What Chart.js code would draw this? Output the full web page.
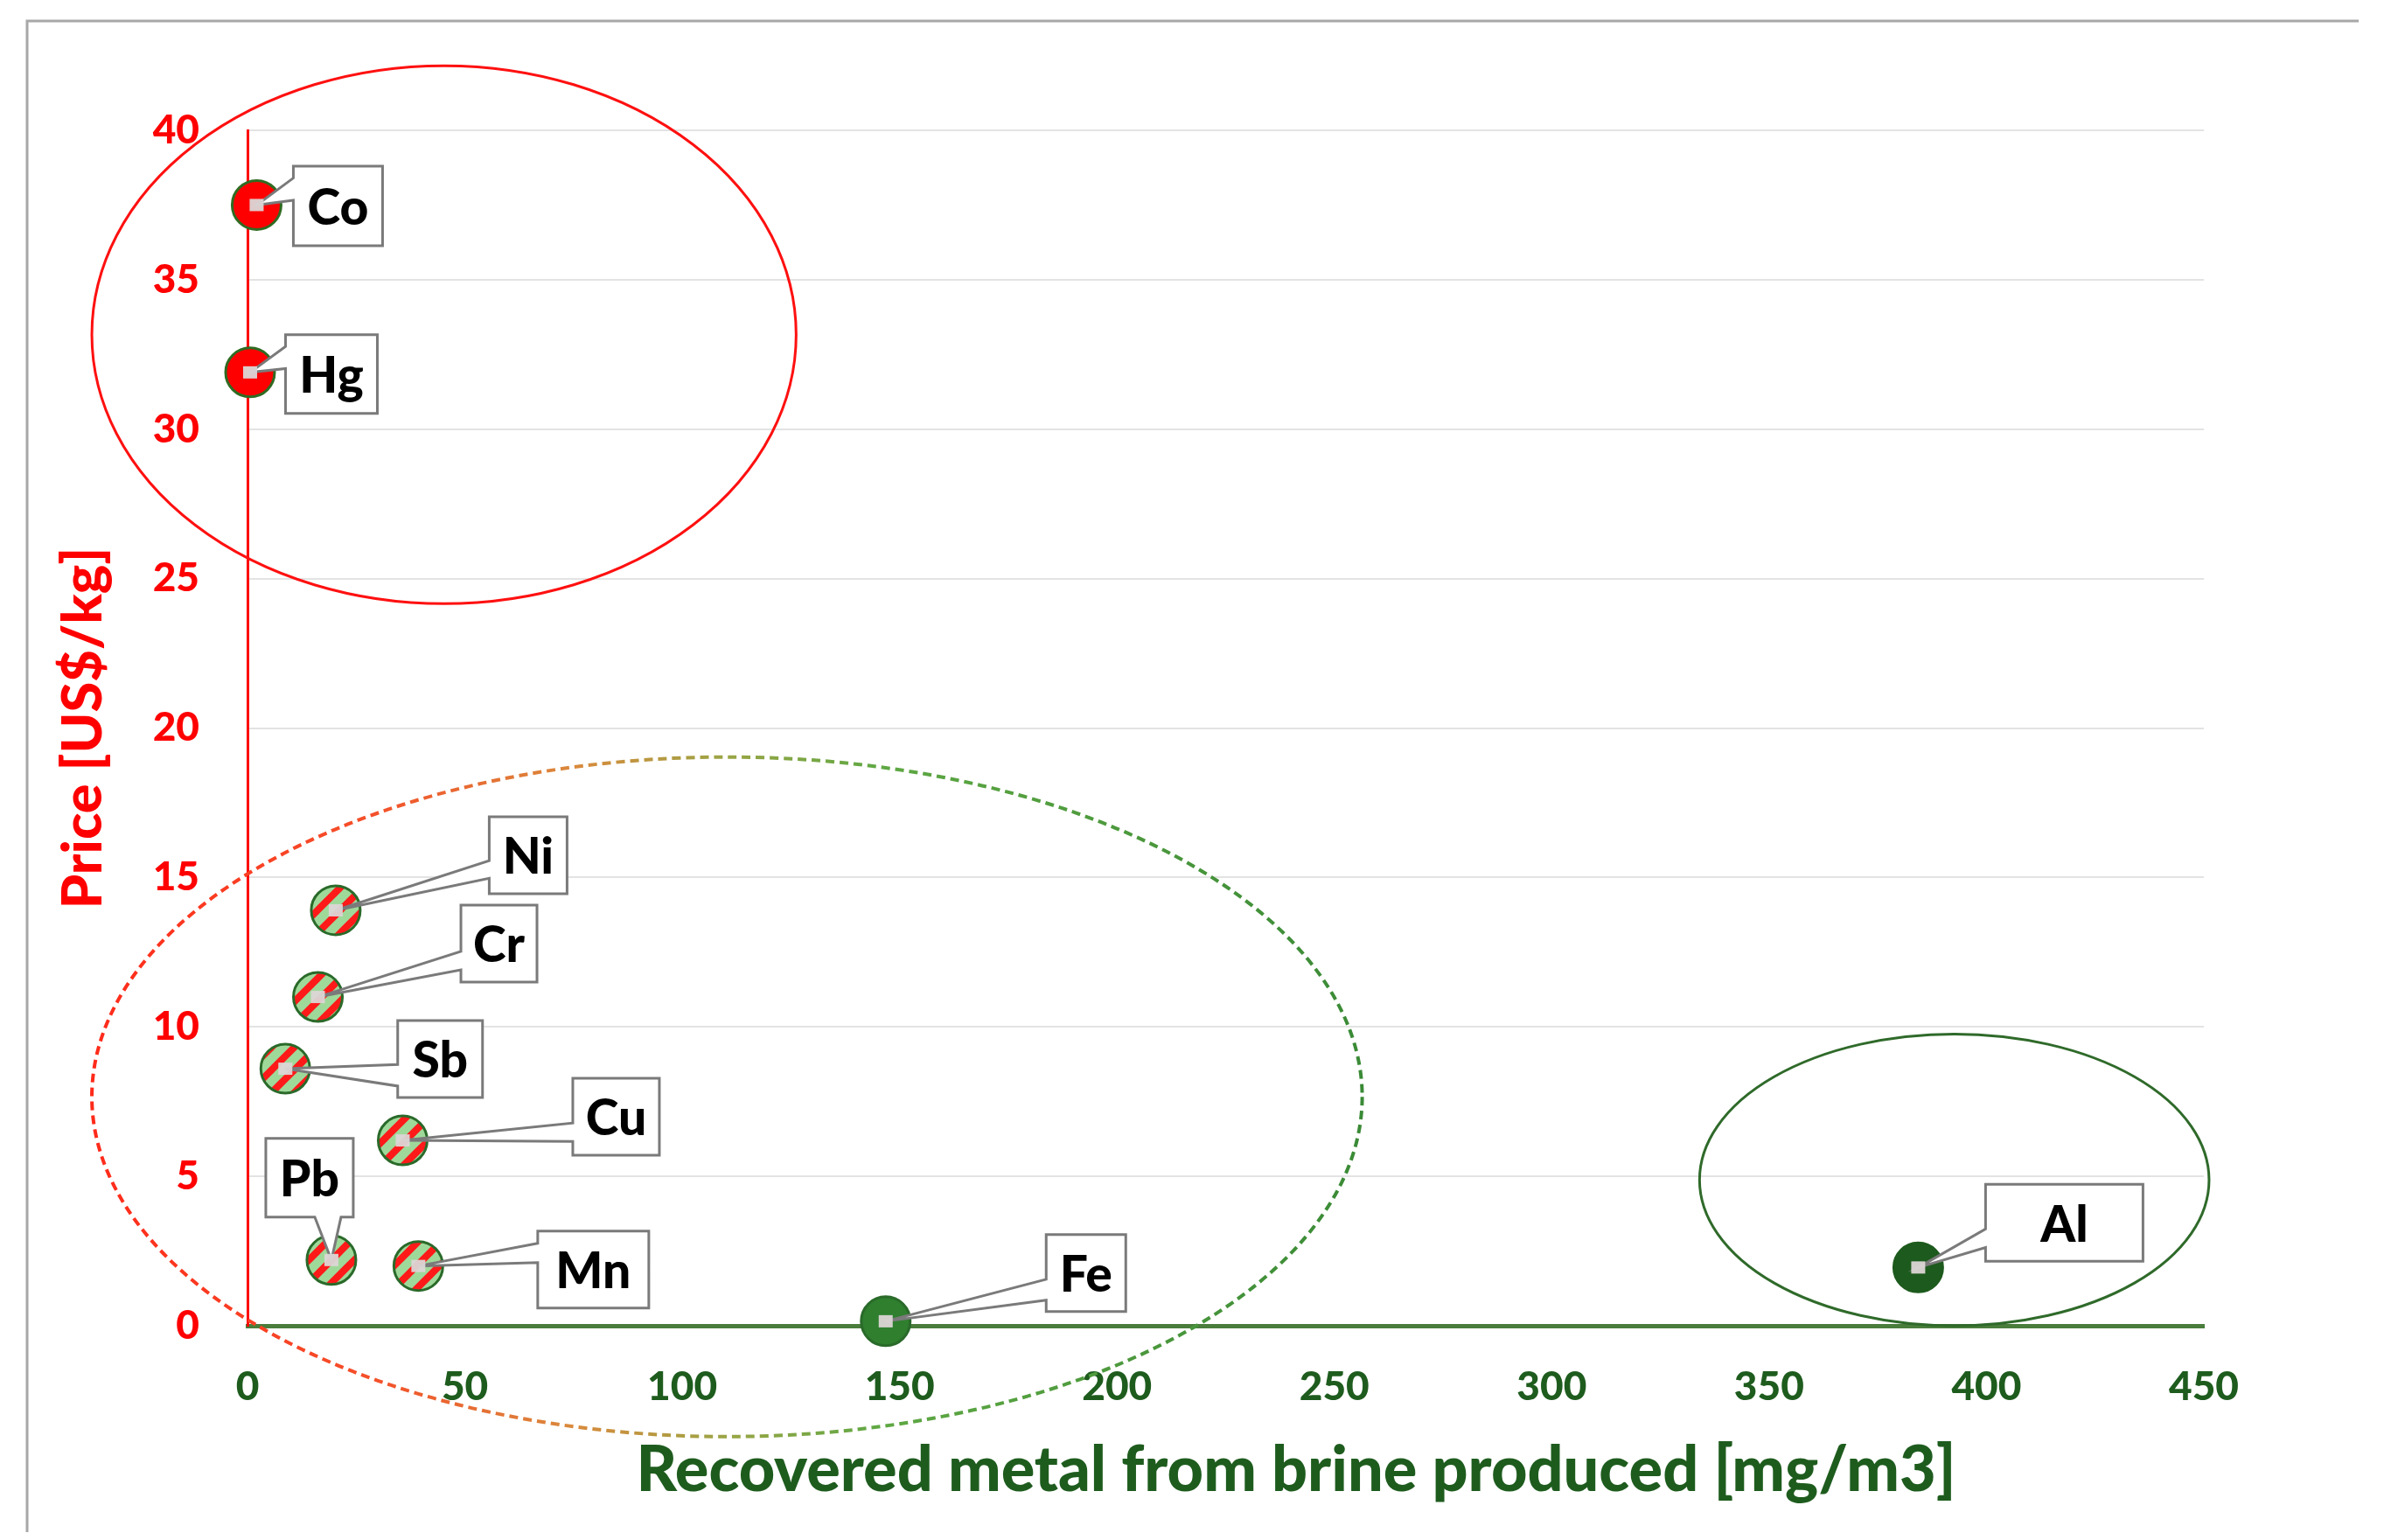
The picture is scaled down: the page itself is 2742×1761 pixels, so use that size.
<!DOCTYPE html>
<html><head><meta charset="utf-8">
<script src="https://cdn.jsdelivr.net/npm/chart.js@4/dist/chart.umd.min.js"></script>
<style>html,body{margin:0;padding:0;background:#fff;}canvas{display:block;}</style>
</head><body>
<canvas id="c" width="2742" height="1761"></canvas>
<script>
// ---- data ----
const metals        = ['Co', 'Hg', 'Ni', 'Cr', 'Sb', 'Cu', 'Pb', 'Mn', 'Fe', 'Al'];
const recoveredMgM3 = [2.1, 0.6, 20.3, 16.2, 8.7, 35.7, 19.3, 39.3, 146.8, 384.3];
const priceUsdKg    = [37.5, 31.9, 13.9, 11.0, 8.6, 6.2, 2.2, 2.0, 0.15, 1.95];
const metalGroup    = ['high', 'high', 'mid', 'mid', 'mid', 'mid', 'mid', 'mid', 'low', 'bulk'];
const xTickValues   = [0, 50, 100, 150, 200, 250, 300, 350, 400, 450];
const yTickValues   = [0, 5, 10, 15, 20, 25, 30, 35, 40];
const xTitle = 'Recovered metal from brine produced [mg/m3]';
const yTitle = 'Price [US$/kg]';

// grouping ellipses (data units)
const groupEllipses = [
  {cx: 45.2,  cy: 33.16, rx: 81.0,  ry: 9.0,   kind: 'red'},
  {cx: 110.3, cy: 7.66,  rx: 146.1, ry: 11.37, kind: 'dashedGradient'},
  {cx: 392.6, cy: 4.88,  rx: 58.6,  ry: 4.88,  kind: 'green'}
];

// ---- styles ----
const calloutLayout = {
  Co: {dx: 93,  dy: 1,   w: 102, h: 91, side: 'left',   f1: 0.15, f2: 0.43},
  Hg: {dx: 93,  dy: 2,   w: 105, h: 90, side: 'left',   f1: 0.15, f2: 0.43},
  Ni: {dx: 220, dy: -63, w: 89,  h: 88, side: 'left',   f1: 0.57, f2: 0.80},
  Cr: {dx: 207, dy: -61, w: 87,  h: 88, side: 'left',   f1: 0.60, f2: 0.84},
  Sb: {dx: 177, dy: -11, w: 97,  h: 88, side: 'left',   f1: 0.57, f2: 0.85},
  Cu: {dx: 244, dy: -27, w: 99,  h: 88, side: 'left',   f1: 0.58, f2: 0.82},
  Pb: {dx: -25, dy: -94, w: 100, h: 90, side: 'bottom', f1: 0.56, f2: 0.86},
  Mn: {dx: 200, dy: 4,   w: 127, h: 88, side: 'left',   f1: 0.16, f2: 0.41},
  Fe: {dx: 229, dy: -55, w: 91,  h: 88, side: 'left',   f1: 0.58, f2: 0.85},
  Al: {dx: 167, dy: -51, w: 180, h: 88, side: 'left',   f1: 0.58, f2: 0.82}
};

function stripePattern() {
  const p = 26, c = document.createElement('canvas');
  c.width = p; c.height = p;
  const g = c.getContext('2d');
  g.fillStyle = '#9fd99a'; g.fillRect(0, 0, p, p);
  g.strokeStyle = '#ff1a1a'; g.lineWidth = 8;
  [[-p, p, p, -p], [0, p, p, 0], [0, 2 * p, 2 * p, 0]].forEach(l => {
    g.beginPath(); g.moveTo(l[0], l[1]); g.lineTo(l[2], l[3]); g.stroke();
  });
  return document.getElementById('c').getContext('2d').createPattern(c, 'repeat');
}
const groupFill = {high: '#ff0000', mid: stripePattern(), low: '#2f7f2f', bulk: '#1d5a1d'};
const groupBorder = {high: '#2f6b22', mid: '#2a6a2a', low: '#2a6a2a', bulk: '#1d5a1d'};

const GREEN_TXT = '#1e5c1e';
const FONT = 'Lato, "Open Sans", sans-serif';
Chart.defaults.font.family = FONT;

function drawCallout(ctx, px, py, L, text) {
  const bx = px + L.dx - L.w / 2, by = py + L.dy - L.h / 2;
  ctx.save();
  ctx.beginPath();
  if (L.side === 'left') {
    ctx.moveTo(bx, by);
    ctx.lineTo(bx + L.w, by);
    ctx.lineTo(bx + L.w, by + L.h);
    ctx.lineTo(bx, by + L.h);
    ctx.lineTo(bx, by + L.h * L.f2);
    ctx.lineTo(px, py);
    ctx.lineTo(bx, by + L.h * L.f1);
    ctx.closePath();
  } else {
    ctx.moveTo(bx, by);
    ctx.lineTo(bx + L.w, by);
    ctx.lineTo(bx + L.w, by + L.h);
    ctx.lineTo(bx + L.w * L.f2, by + L.h);
    ctx.lineTo(px, py);
    ctx.lineTo(bx + L.w * L.f1, by + L.h);
    ctx.lineTo(bx, by + L.h);
    ctx.closePath();
  }
  ctx.fillStyle = '#ffffff';
  ctx.fill();
  ctx.lineWidth = 3;
  ctx.strokeStyle = '#7a7a7a';
  ctx.lineJoin = 'miter';
  ctx.stroke();
  // tip square
  ctx.fillStyle = 'rgba(220,214,214,0.95)';
  ctx.fillRect(px - 8, py - 7, 16, 14);
  // text
  ctx.fillStyle = '#000';
  ctx.font = '900 57px ' + FONT;
  ctx.textAlign = 'center';
  ctx.textBaseline = 'middle';
  ctx.fillText(text, bx + L.w / 2, by + L.h / 2 + 3);
  ctx.restore();
}

const decor = {
  id: 'decor',
  beforeDraw(chart) {
    const ctx = chart.ctx;
    ctx.save();
    ctx.strokeStyle = '#a8a8a8';
    ctx.lineWidth = 3;
    ctx.beginPath();
    ctx.moveTo(31, 1752); ctx.lineTo(31, 24); ctx.lineTo(2697, 24);
    ctx.stroke();
    ctx.restore();
  },
  afterDatasetsDraw(chart) {
    const ctx = chart.ctx, xs = chart.scales.x, ys = chart.scales.y;
    const ux = Math.abs(xs.getPixelForValue(1) - xs.getPixelForValue(0));
    const uy = Math.abs(ys.getPixelForValue(1) - ys.getPixelForValue(0));
    groupEllipses.forEach(e => {
      const cx = xs.getPixelForValue(e.cx), cy = ys.getPixelForValue(e.cy);
      const rx = e.rx * ux, ry = e.ry * uy;
      ctx.save();
      ctx.beginPath();
      ctx.ellipse(cx, cy, rx, ry, 0, 0, Math.PI * 2);
      if (e.kind === 'red') {
        ctx.strokeStyle = '#ff1010'; ctx.lineWidth = 3;
      } else if (e.kind === 'green') {
        ctx.strokeStyle = '#2f6a2a'; ctx.lineWidth = 3;
      } else {
        const g = ctx.createLinearGradient(cx - rx, 0, cx + rx, 0);
        g.addColorStop(0, '#ff2a1a');
        g.addColorStop(0.22, '#f4502a');
        g.addColorStop(0.38, '#d98a3c');
        g.addColorStop(0.5, '#9aa545');
        g.addColorStop(0.62, '#5fa844');
        g.addColorStop(1, '#3a8a36');
        ctx.strokeStyle = g; ctx.lineWidth = 4; ctx.setLineDash([10, 6]);
      }
      ctx.stroke();
      ctx.restore();
    });
    const meta = chart.getDatasetMeta(0);
    meta.data.forEach((el, i) => {
      drawCallout(ctx, el.x, el.y, calloutLayout[metals[i]], metals[i]);
    });
  },
  afterDraw(chart) {
    const ctx = chart.ctx;
    ctx.save();
    ctx.fillStyle = GREEN_TXT;
    ctx.font = '900 72px ' + FONT;
    ctx.textAlign = 'center';
    ctx.textBaseline = 'middle';
    ctx.fillText(xTitle, 1482, 1682);
    ctx.restore();
  }
};

new Chart(document.getElementById('c'), {
  type: 'scatter',
  data: {
    datasets: [{
      data: metals.map((m, i) => ({x: recoveredMgM3[i], y: priceUsdKg[i]})),
      pointRadius: 28,
      pointBackgroundColor: metalGroup.map(g => groupFill[g]),
      pointBorderColor: metalGroup.map(g => groupBorder[g]),
      pointBorderWidth: 3,
      showLine: false,
      clip: false
    }]
  },
  options: {
    responsive: false,
    animation: false,
    events: [],
    layout: {padding: {left: 0, top: 149, right: 222, bottom: 0}},
    plugins: {legend: {display: false}, tooltip: {enabled: false}},
    scales: {
      x: {
        type: 'linear', min: xTickValues[0], max: xTickValues[xTickValues.length - 1],
        afterBuildTicks(s) { s.ticks = xTickValues.map(v => ({value: v})); },
        afterFit(s) { s.height = 245; },
        grid: {display: false},
        border: {display: true, color: '#4a7d3c', width: 5},
        ticks: {color: GREEN_TXT, font: {size: 46, weight: '900'}, padding: 35, maxRotation: 0, autoSkip: false}
      },
      y: {
        type: 'linear', min: yTickValues[0], max: yTickValues[yTickValues.length - 1],
        afterBuildTicks(s) { s.ticks = yTickValues.map(v => ({value: v})); },
        afterFit(s) { s.width = 283; },
        grid: {display: true, drawTicks: false, color: '#e3e3e3', lineWidth: 2},
        border: {display: true, color: '#ff0000', width: 3},
        ticks: {color: '#ff0000', font: {size: 46, weight: '900'}, padding: 55},
        title: {display: true, text: yTitle, color: '#ff0000', font: {size: 63, weight: '900'}, padding: {top: 58, bottom: 0}}
      }
    }
  },
  plugins: [decor]
});
</script>
</body></html>
